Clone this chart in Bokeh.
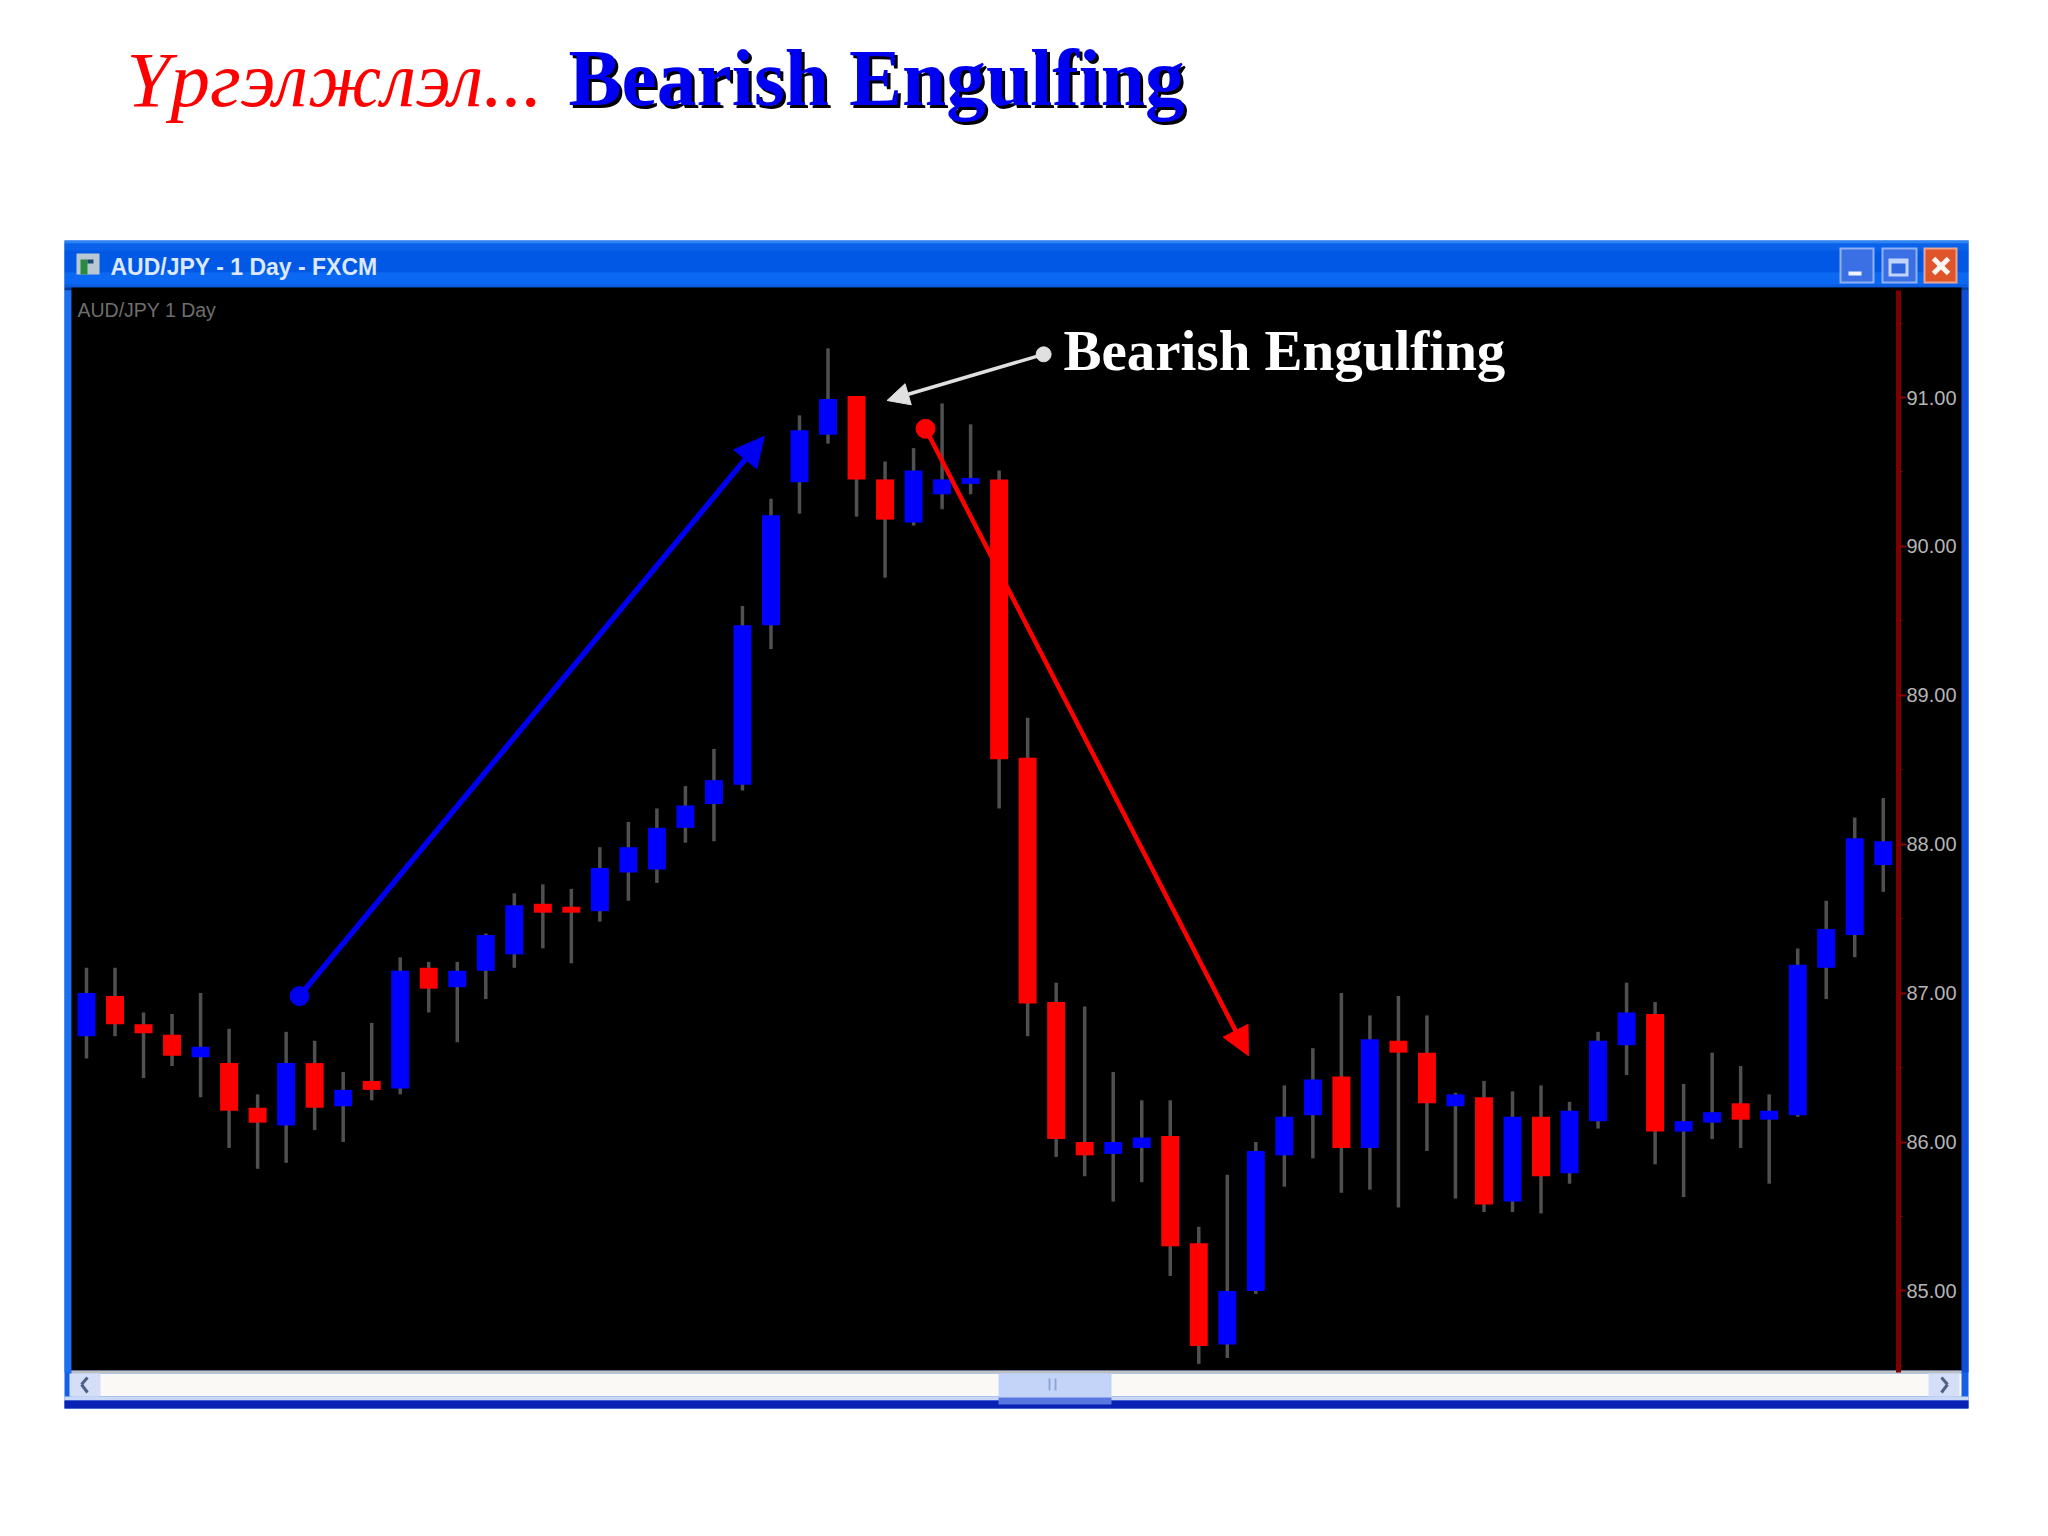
from bokeh.plotting import figure
from bokeh.core.properties import value
from bokeh.models import (ColumnDataSource, Range1d, Arrow, NormalHead, FixedTicker,
                          NumeralTickFormatter, LinearAxis)
from bokeh.embed import file_html
from bokeh.resources import INLINE

# ---------- data ----------
highs = [87.17,87.17,86.87,86.86,87.00,86.76,86.32,86.74,86.68,86.47,86.80,87.24,87.21,87.21,87.40,87.67,
         87.73,87.70,87.98,88.15,88.24,88.39,88.64,89.60,90.32,90.88,91.33,91.01,90.57,90.66,90.96,90.82,
         90.51,88.85,87.07,86.91,86.47,86.28,86.28,85.43,85.78,86.00,86.38,86.63,87.00,86.85,86.98,86.85,
         86.33,86.41,86.34,86.38,86.27,86.74,87.07,86.94,86.39,86.60,86.51,86.32,87.30,87.62,88.18,88.31]
lows  = [86.56,86.71,86.43,86.51,86.30,85.96,85.82,85.86,86.08,86.00,86.28,86.32,86.87,86.67,86.96,87.17,
         87.30,87.20,87.48,87.62,87.74,88.01,88.02,88.36,89.31,90.22,90.69,90.20,89.79,90.14,90.25,90.35,
         88.24,86.71,85.90,85.77,85.60,85.73,85.10,84.51,84.55,84.98,85.70,85.89,85.66,85.68,85.56,85.94,
         85.62,85.53,85.53,85.52,85.72,86.09,86.45,85.85,85.63,86.02,85.96,85.72,86.17,86.96,87.24,87.68]
opens = [86.71,86.98,86.79,86.72,86.57,86.53,86.23,86.11,86.53,86.24,86.41,86.36,87.17,87.04,87.15,87.26,
         87.60,87.58,87.55,87.81,87.83,88.11,88.27,88.40,89.47,90.43,90.75,91.01,90.45,90.16,90.35,90.42,
         90.45,88.58,86.94,86.00,85.92,85.96,86.04,85.32,84.64,85.00,85.91,86.18,86.44,85.96,86.68,86.60,
         86.24,86.30,85.60,86.17,85.79,86.14,86.65,86.86,86.07,86.13,86.26,86.15,86.18,87.17,87.39,87.86]
closes= [87.00,86.79,86.73,86.58,86.64,86.21,86.13,86.53,86.23,86.35,86.35,87.15,87.03,87.15,87.39,87.59,
         87.54,87.54,87.84,87.98,88.11,88.26,88.43,89.47,90.21,90.78,90.99,90.45,90.18,90.51,90.45,90.46,
         88.57,86.93,86.02,85.91,86.00,86.03,85.30,84.63,85.00,85.94,86.17,86.42,85.96,86.69,86.60,86.26,
         86.32,85.58,86.17,85.77,86.21,86.68,86.87,86.07,86.14,86.20,86.15,86.21,87.19,87.43,88.04,88.02]
tick_prices = [85, 86, 87, 88, 89, 90, 91]

up_arrow_x, up_arrow_y = [7.47, 23.77], [86.98, 90.74]
down_arrow_x, down_arrow_y = [29.42, 40.74], [90.79, 86.58]
note_arrow_x, note_arrow_y = [33.56, 28.07], [91.29, 90.98]

title_ru = "Үргэлжлэл..."
title_en = "Bearish Engulfing"
window_title = "AUD/JPY - 1 Day - FXCM"
chart_label = "AUD/JPY  1 Day"
note_text = "Bearish Engulfing"

# ---------- figure: the frame fills the canvas; both scales are pixel-linear ----------
W, H = 2040, 1528
STEP, X0, PX_PER_UNIT, Y91 = 28.52, 86.0, 148.9, 397.0
AXIS_X, PANE_TOP, PANE_BOTTOM = 1898, 290, 1372


def price_at(py):
    return 91 - (py - Y91) / PX_PER_UNIT


def index_at(px):
    return (px - X0) / STEP


p = figure(width=W, height=H, output_backend="svg", toolbar_location=None,
           x_range=Range1d(index_at(0), index_at(W)), y_range=Range1d(price_at(H), price_at(0)),
           x_axis_location=None, y_axis_location=None, min_border=0,
           background_fill_color="white", border_fill_color="white")
p.outline_line_color = None
p.grid.visible = False
p.extra_x_ranges["px"] = Range1d(0, W)
p.extra_y_ranges["px"] = Range1d(H, 0)
PX = dict(x_range_name="px", y_range_name="px")


def box(l, t, r, b, color):
    p.quad(left=[l], right=[r], top=[t], bottom=[b], fill_color=color, line_color=None, **PX)


def text(x, y, s, color, size, font="Liberation Sans", style="normal"):
    # y is the wanted baseline; the renderer sets the text about 0.36 em lower
    p.text(x=[x], y=[y - 0.36 * size], text=[s], text_color=color, text_font=value(font),
           text_font_size=f"{size}px", text_font_style=style, text_baseline="alphabetic", **PX)


def stroke(x0, y0, x1, y1, color, width):
    p.segment([x0], [y0], [x1], [y1], line_color=color, line_width=width, **PX)


# window chrome
box(64, 240, 1968, 1408, "#1560e6")
for t, b, c in [(240, 243, "#2f86f2"), (243, 250, "#0a62ea"), (250, 272, "#0058e4"),
                (272, 284, "#0a68f2"), (284, 287, "#0a5ce0"), (287, 290, "#00409c")]:
    box(64, t, 1968, b, c)
box(64, 290, 71, 1372, "#1a70ee")
box(1961, 290, 1968, 1372, "#0f4fd8")
box(71, 287, 1961, 1370, "black")
box(71, 1370, 1961, 1373, "#c0c0c0")
box(71, 1373, 1961, 1396, "#fbf9f5")
box(64, 1396, 1968, 1400, "#c8d8f6")
box(64, 1400, 1968, 1408, "#0a22b4")
box(998, 1373, 1111, 1397, "#c4d4f8")
box(998, 1397, 1111, 1404, "#5878e0")
box(69, 1373, 100, 1396, "#d4def6")
box(1928, 1373, 1959, 1396, "#d4def6")
stroke(87, 1377, 81, 1384, "#4d6188", 3)
stroke(81, 1384, 87, 1392, "#4d6188", 3)
stroke(1941, 1377, 1947, 1384, "#4d6188", 3)
stroke(1947, 1384, 1941, 1392, "#4d6188", 3)
box(1048, 1378, 1050, 1390, "#8fa6d8")
box(1054, 1378, 1056, 1390, "#8fa6d8")

# window icon
box(76, 253, 99, 274, "#b8c8d0")
box(80, 259, 87, 274, "#2a8a40")
box(87, 259, 93, 263, "#1c4a78")

# window buttons
box(1839, 247, 1874, 283, "#8fb0f2")
box(1841, 249, 1872, 281, "#3a70e4")
box(1848, 271, 1861, 275, "#f0f4ff")
box(1881, 247, 1917, 283, "#8fb0f2")
box(1883, 249, 1915, 281, "#3a70e4")
box(1888, 258, 1908, 276, "#c4d4f8")
box(1891, 263, 1905, 273, "#2e66e0")
box(1923, 247, 1957, 283, "#eda58e")
box(1925, 249, 1955, 281, "#e0542a")
stroke(1933, 258, 1948, 273, "#f8f4f0", 5)
stroke(1948, 258, 1933, 273, "#f8f4f0", 5)

# page heading
text(126, 107, title_ru, "#ff0000", 79, "Liberation Serif", "italic")
text(571, 109, title_en, "#000000", 79.5, "Liberation Serif", "bold")
text(568, 106, title_en, "#0000f0", 79.5, "Liberation Serif", "bold")

# window texts
text(110, 275, window_title, "#dce8ff", 23, "Liberation Sans", "bold")
text(77, 317, chart_label, "#6e6e6e", 19.5)

# price axis inside the window
ax = LinearAxis(fixed_location=index_at(AXIS_X), bounds=(price_at(PANE_BOTTOM), price_at(PANE_TOP)))
ax.ticker = FixedTicker(ticks=tick_prices, minor_ticks=[t + 0.5 for t in tick_prices] + [84.5])
ax.formatter = NumeralTickFormatter(format="0.00")
ax.axis_line_color = "#7c0000"
ax.axis_line_width = 5
ax.major_tick_line_color = "#8a0000"
ax.major_tick_line_width = 2
ax.major_tick_in = 0
ax.major_tick_out = 8
ax.minor_tick_line_color = "#8a0000"
ax.minor_tick_in = 0
ax.minor_tick_out = 4
ax.major_label_text_color = "#b4b4b4"
ax.major_label_text_font = "Liberation Sans"
ax.major_label_text_font_size = "20px"
ax.major_label_standoff = 0
p.add_layout(ax, "right")

# candles
colors = ["#0000ff" if c >= o else "#ff0000" for o, c in zip(opens, closes)]
src = ColumnDataSource(dict(x=list(range(len(opens))), high=highs, low=lows,
                            top=[max(o, c) for o, c in zip(opens, closes)],
                            bottom=[min(o, c) for o, c in zip(opens, closes)], color=colors))
p.segment("x", "high", "x", "low", source=src, line_color="#505050", line_width=3.5)
p.vbar("x", 0.63, "bottom", "top", source=src, fill_color="color", line_color=None)

# annotating arrows
for xs, ys, col, lw, head, dot in [(up_arrow_x, up_arrow_y, "#0000f0", 5.5, 30, 19),
                                   (down_arrow_x, down_arrow_y, "#ff0000", 4.5, 28, 19),
                                   (note_arrow_x, note_arrow_y, "#e0e0e0", 3.5, 22, 15)]:
    p.add_layout(Arrow(end=NormalHead(size=head, fill_color=col, line_color=col),
                       x_start=xs[0], y_start=ys[0], x_end=xs[1], y_end=ys[1],
                       line_color=col, line_width=lw))
    p.scatter(xs[:1], ys[:1], size=dot, color=col)

text(1063, 371, note_text, "#ffffff", 57, "Liberation Serif", "bold")

open("out.html", "w").write(file_html(p, INLINE))
